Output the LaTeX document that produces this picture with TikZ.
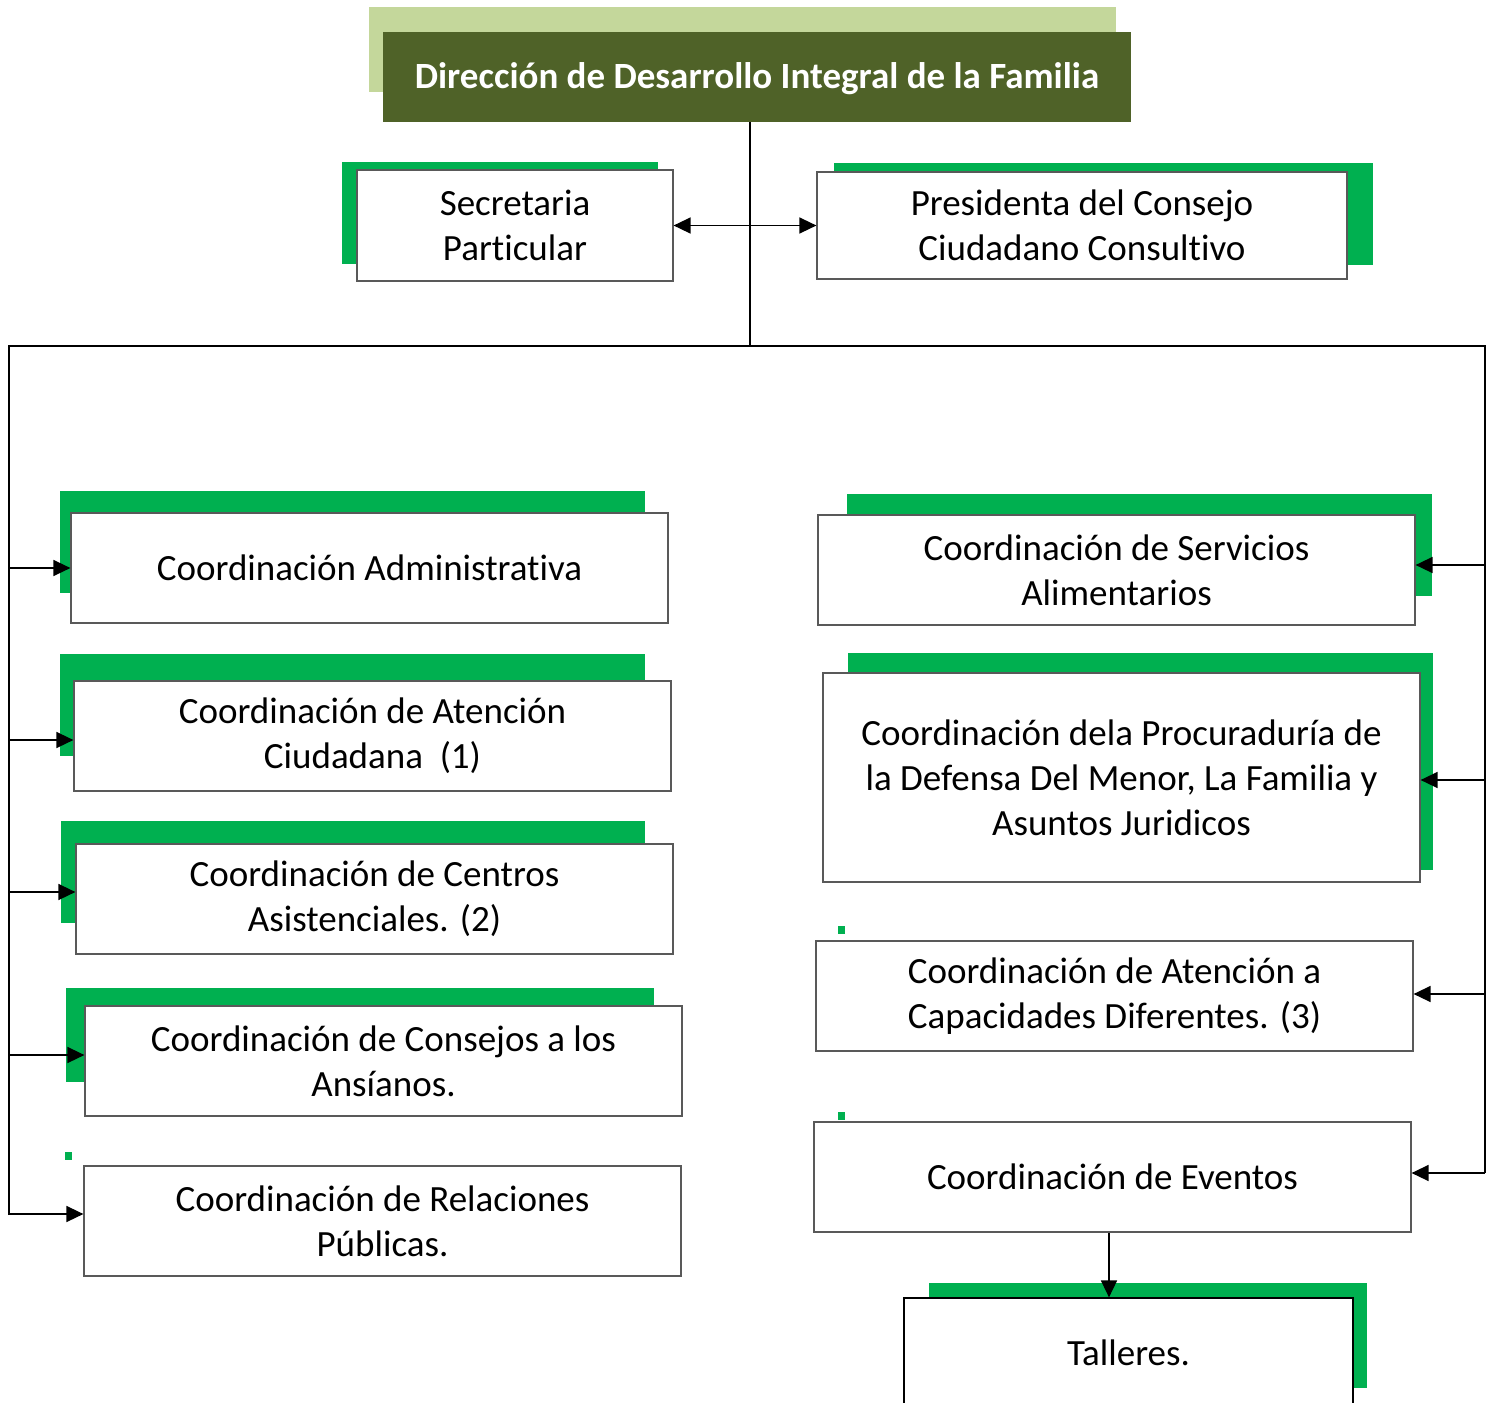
\documentclass[tikz,border=0pt]{standalone}
\usepackage{fontspec}
\setmainfont{Carlito}[Ligatures=NoCommon]
\usepackage{tikz}
\usetikzlibrary{arrows.meta}
\usetikzlibrary{positioning}

\definecolor{leafgreen}{HTML}{00B050}
\definecolor{olivedark}{HTML}{4F6228}
\definecolor{olivelight}{HTML}{C4D79B}

\tikzset{
  orgbox/.style={draw=black!65, line width=1.2pt, fill=white, align=center,
    minimum width=597pt, minimum height=110pt, inner sep=0pt,
    font=\fontsize{37}{45}\selectfont},
  greenback/.style={fill=leafgreen},
  wire/.style={line width=1.5pt},
  link/.style={line width=1.5pt, -{Triangle[length=17pt,width=16pt]}},
}

\begin{document}
\begin{tikzpicture}[x=1pt, y=-1pt]
    \useasboundingbox (0,0) rectangle (1489,1403);
    \clip (0,0) rectangle (1489,1403);

    % Head
    \fill[olivelight] (369,7) rectangle (1116,92);
    \node (dif) at (757,77) [fill=olivedark, minimum width=748pt, minimum height=90pt,
      text=white, text depth=2pt, font=\fontsize{37}{45}\selectfont\bfseries] {Dirección de Desarrollo Integral de la Familia};

    % Green backs
    \fill[greenback] (342,162) rectangle (658,264);
    \fill[greenback] (834,163) rectangle (1373,265);
    \fill[greenback] (60,491) rectangle (645,593);
    \fill[greenback] (60,654) rectangle (645,756);
    \fill[greenback] (61,821) rectangle (645,923);
    \fill[greenback] (66,988) rectangle (654,1082);
    \fill[greenback] (65,1152) rectangle (72,1160);
    \fill[greenback] (847,494) rectangle (1432,596);
    \fill[greenback] (848,653) rectangle (1433,870);
    \fill[greenback] (838,926) rectangle (845,934);
    \fill[greenback] (838,1112) rectangle (845,1120);
    \fill[greenback] (929,1283) rectangle (1367,1388);

    % Staff
    \node (secretaria) at (515,225.5) [orgbox, minimum width=316pt, minimum height=111pt] {Secretaria\\Particular};
    \node (presidenta) at (1082,225.5) [orgbox, minimum width=530pt, minimum height=107pt] {Presidenta del Consejo\\Ciudadano Consultivo};

    % Left column
    \node (admin) at (369.5,568) [orgbox] {Coordinación Administrativa};
    \node (atencion) at (372.5,736) [orgbox] {Coordinación de Atención\\Ciudadana\ \ (1)};
    \node (centros) at (374.5,899) [orgbox] {Coordinación de Centros\\Asistenciales. (2)};
    \node (consejos) at (383.5,1061) [orgbox] {Coordinación de Consejos a los\\Ansíanos.};
    \node (relaciones) at (382.5,1221) [orgbox] {Coordinación de Relaciones\\Públicas.};

    % Right column
    \node (servicios) at (1116.5,570) [orgbox] {Coordinación de Servicios\\Alimentarios};
    \node (procuraduria) at (1121.5,777.5) [orgbox, minimum height=209pt] {Coordinación dela Procuraduría de\\la Defensa Del Menor, La Familia y\\Asuntos Juridicos};
    \node (capacidades) at (1114.5,996) [orgbox] {Coordinación de Atención a\\Capacidades Diferentes. (3)};
    \node (eventos) at (1112.5,1177) [orgbox] {Coordinación de Eventos};
    \node (talleres) at (1128.5,1353) [orgbox, draw=black, minimum width=449pt] {Talleres.};

    % Trunk and bus
    \coordinate (split) at (750,346);
    \coordinate (busL) at (9,346);
    \coordinate (busR) at (1485,346);
    \coordinate (endL) at (9,1215);
    \coordinate (endR) at (1485,1173);
    \draw[wire] (dif.south -| split) -- (split);
    \draw[wire] (endL) -- (busL) -- (busR) -- (endR);

    \draw[link] (split |- secretaria.east) -- (secretaria.east);
    \draw[link] (split |- presidenta.west) -- (presidenta.west);

    \draw[link] (busL |- admin.west) -- (admin.west);
    \draw[link] ([yshift=-4pt]busL |- atencion.west) -- ([yshift=-4pt]atencion.west);
    \draw[link] ([yshift=7pt]busL |- centros.west) -- ([yshift=7pt]centros.west);
    \draw[link] ([yshift=6pt]busL |- consejos.west) -- ([yshift=6pt]consejos.west);
    \draw[link] ([yshift=7pt]busL |- relaciones.west) -- ([yshift=7pt]relaciones.west);

    \draw[link] ([yshift=5pt]busR |- servicios.east) -- ([yshift=5pt]servicios.east);
    \draw[link] ([yshift=-2.5pt]busR |- procuraduria.east) -- ([yshift=-2.5pt]procuraduria.east);
    \draw[link] ([yshift=2pt]busR |- capacidades.east) -- ([yshift=2pt]capacidades.east);
    \draw[link] ([yshift=4pt]busR |- eventos.east) -- ([yshift=4pt]eventos.east);

    \draw[link] ([xshift=-3.5pt]eventos.south) -- ([xshift=-3.5pt]eventos.south |- talleres.north);
\end{tikzpicture}
\end{document}
